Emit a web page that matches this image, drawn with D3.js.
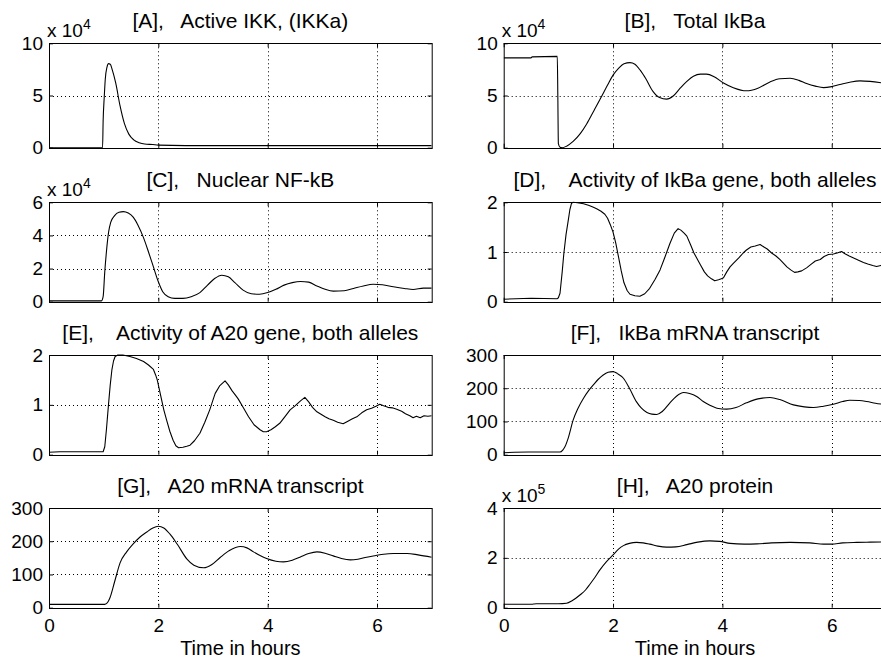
<!DOCTYPE html>
<html>
<head>
<meta charset="utf-8">
<script src="https://cdn.jsdelivr.net/npm/d3@7"></script>
<style>
  html, body { margin: 0; padding: 0; background: #fff; }
  svg { display: block; }
  text { font-family: "Liberation Sans", Arial, Helvetica, sans-serif; fill: #000; }
  .title { white-space: pre; }
</style>
</head>
<body>
<svg id="fig" width="881" height="660"></svg>
<script>
// ---------- simulated time courses (time in hours) ----------

// [A] active IKK
const tIKK = [0, 0.98, 0.99, 1.01, 1.03, 1.06, 1.09, 1.12, 1.16, 1.22, 1.3, 1.38, 1.46, 1.55, 1.65, 1.75, 1.9, 2.0, 3, 4, 5, 6, 7];
const vIKK = [0, 0, 25000, 48000, 66000, 77000, 80500, 80000, 74000, 62000, 40000, 23000, 13000, 7500, 4800, 3500, 3000, 2500, 2000, 2000, 2000, 2000, 2000];

// [B] total IkBa
const tIkBa = [0, 0.5, 0.52, 0.98, 0.99, 1.0, 1.03, 1.07, 1.15, 1.27, 1.4, 1.52, 1.65, 1.79, 1.9, 2.0, 2.1, 2.2, 2.31, 2.4, 2.5, 2.6, 2.73, 2.85, 2.98, 3.1, 3.22, 3.35, 3.47, 3.6, 3.71, 3.85, 4.02, 4.2, 4.44, 4.65, 4.87, 5.05, 5.24, 5.4, 5.54, 5.7, 5.85, 6.0, 6.15, 6.35, 6.52, 6.7, 7.0];
const vIkBa = [86000, 86000, 87000, 87500, 50000, 4000, 500, 0, 1500, 6000, 13500, 23000, 35500, 49000, 60000, 69500, 76000, 80500, 81500, 80000, 74000, 66000, 54000, 48000, 46500, 49500, 56500, 63500, 68500, 70500, 70500, 68000, 62000, 57500, 54500, 57000, 63000, 66000, 66500, 64500, 61500, 59000, 57500, 58500, 60500, 63000, 64000, 63500, 61500];

// [C] nuclear NF-kB
const tNFkB = [0, 0.96, 0.99, 1.02, 1.05, 1.09, 1.13, 1.2, 1.28, 1.36, 1.45, 1.54, 1.63, 1.73, 1.82, 1.91, 2.0, 2.08, 2.18, 2.3, 2.45, 2.6, 2.76, 2.9, 3.03, 3.16, 3.28, 3.4, 3.55, 3.7, 3.85, 4.0, 4.15, 4.3, 4.45, 4.6, 4.75, 4.9, 5.05, 5.2, 5.4, 5.57, 5.75, 5.93, 6.1, 6.3, 6.5, 6.66, 6.85, 7.0];
const vNFkB = [500, 500, 3000, 18000, 30000, 42000, 48000, 52000, 54000, 54400, 53500, 51000, 46000, 38500, 30000, 21000, 12000, 6000, 3000, 2000, 2000, 3000, 5500, 10000, 14000, 16000, 15000, 11500, 7000, 4800, 4500, 5500, 7500, 10000, 11500, 12200, 11800, 9500, 7500, 6400, 6600, 8000, 9500, 10500, 10200, 9000, 8000, 7400, 8200, 8200];

// [D] IkBa gene activity (both alleles)
const tGeneIkBa = [0, 0.5, 0.98, 1.0, 1.03, 1.07, 1.1, 1.14, 1.18, 1.21, 1.24, 1.27, 1.35, 1.46, 1.55, 1.62, 1.7, 1.78, 1.85, 1.9, 1.95, 2.0, 2.05, 2.1, 2.15, 2.2, 2.26, 2.31, 2.4, 2.49, 2.58, 2.67, 2.77, 2.86, 2.95, 3.04, 3.12, 3.19, 3.24, 3.3, 3.35, 3.42, 3.48, 3.53, 3.6, 3.67, 3.73, 3.8, 3.86, 3.93, 3.98, 4.02, 4.08, 4.14, 4.2, 4.3, 4.38, 4.44, 4.52, 4.6, 4.69, 4.76, 4.82, 4.9, 4.98, 5.05, 5.12, 5.18, 5.25, 5.32, 5.38, 5.45, 5.54, 5.62, 5.7, 5.79, 5.86, 5.94, 6.03, 6.1, 6.18, 6.25, 6.32, 6.4, 6.5, 6.58, 6.66, 6.75, 6.82, 6.9, 7.0];
const vGeneIkBa = [0.05, 0.07, 0.06, 0.08, 0.17, 0.6, 0.97, 1.35, 1.63, 1.85, 1.98, 2.0, 1.99, 1.97, 1.94, 1.91, 1.87, 1.82, 1.76, 1.68, 1.55, 1.4, 1.18, 0.9, 0.62, 0.38, 0.22, 0.15, 0.12, 0.11, 0.16, 0.27, 0.45, 0.64, 0.9, 1.17, 1.38, 1.47, 1.44, 1.38, 1.32, 1.14, 0.98, 0.88, 0.74, 0.6, 0.52, 0.46, 0.42, 0.44, 0.46, 0.48, 0.6, 0.7, 0.77, 0.88, 0.98, 1.04, 1.1, 1.12, 1.15, 1.1, 1.06, 0.98, 0.92, 0.85, 0.77, 0.7, 0.64, 0.59, 0.6, 0.62, 0.68, 0.75, 0.82, 0.85, 0.91, 0.95, 0.96, 0.98, 1.01, 0.96, 0.92, 0.88, 0.83, 0.79, 0.76, 0.73, 0.71, 0.73, 0.72];

// [E] A20 gene activity (both alleles)
const tGeneA20 = [0, 0.2, 0.5, 0.8, 0.99, 1.02, 1.05, 1.09, 1.12, 1.15, 1.18, 1.21, 1.26, 1.35, 1.48, 1.6, 1.73, 1.82, 1.91, 1.95, 1.98, 2.02, 2.06, 2.1, 2.15, 2.21, 2.27, 2.32, 2.37, 2.45, 2.52, 2.58, 2.66, 2.76, 2.85, 2.94, 3.0, 3.04, 3.12, 3.22, 3.28, 3.35, 3.42, 3.46, 3.55, 3.65, 3.75, 3.86, 3.92, 3.98, 4.06, 4.14, 4.22, 4.32, 4.41, 4.5, 4.6, 4.68, 4.75, 4.82, 4.9, 4.96, 5.05, 5.12, 5.2, 5.28, 5.38, 5.45, 5.55, 5.63, 5.72, 5.81, 5.9, 5.98, 6.05, 6.12, 6.2, 6.28, 6.36, 6.45, 6.52, 6.6, 6.66, 6.72, 6.79, 6.86, 6.93, 7.0];
const vGeneA20 = [0.05, 0.06, 0.06, 0.06, 0.06, 0.16, 0.5, 1.03, 1.4, 1.7, 1.88, 1.97, 2.0, 2.0, 1.97, 1.93, 1.87, 1.8, 1.71, 1.6, 1.5, 1.3, 1.1, 0.9, 0.7, 0.47, 0.29, 0.18, 0.14, 0.15, 0.17, 0.19, 0.28, 0.43, 0.65, 0.9, 1.1, 1.23, 1.38, 1.48, 1.4, 1.28, 1.18, 1.12, 0.95, 0.76, 0.6, 0.5, 0.46, 0.46, 0.5, 0.56, 0.63, 0.77, 0.9, 0.98, 1.08, 1.15, 1.06, 0.95, 0.86, 0.82, 0.76, 0.72, 0.69, 0.65, 0.62, 0.66, 0.72, 0.76, 0.84, 0.9, 0.93, 0.97, 1.01, 0.98, 0.95, 0.94, 0.91, 0.87, 0.82, 0.78, 0.74, 0.77, 0.74, 0.78, 0.77, 0.78];

// [F] IkBa mRNA transcript
const tMrnaIkBa = [0, 0.45, 1.03, 1.08, 1.12, 1.18, 1.27, 1.36, 1.46, 1.55, 1.64, 1.73, 1.82, 1.91, 2.0, 2.08, 2.19, 2.3, 2.43, 2.52, 2.62, 2.71, 2.8, 2.9, 3.04, 3.16, 3.29, 3.4, 3.53, 3.65, 3.77, 3.9, 4.08, 4.25, 4.44, 4.65, 4.87, 5.05, 5.3, 5.5, 5.66, 5.85, 6.03, 6.2, 6.33, 6.5, 6.64, 6.8, 7.0];
const vMrnaIkBa = [6, 8, 8, 14, 24, 50, 104, 140, 170, 192, 210, 227, 240, 248, 250, 244, 230, 200, 159, 140, 127, 122, 121, 130, 156, 176, 187, 184, 175, 160, 149, 140, 137, 142, 156, 168, 172, 166, 150, 144, 142, 146, 152, 160, 164, 163, 160, 155, 150];

// [G] A20 mRNA transcript
const tMrnaA20 = [0, 0.5, 1.02, 1.08, 1.115, 1.2, 1.3, 1.42, 1.54, 1.66, 1.79, 1.9, 2.0, 2.1, 2.21, 2.35, 2.52, 2.65, 2.83, 2.98, 3.13, 3.3, 3.5, 3.62, 3.74, 3.86, 3.98, 4.15, 4.29, 4.45, 4.59, 4.75, 4.9, 5.05, 5.2, 5.35, 5.51, 5.65, 5.81, 5.98, 6.12, 6.3, 6.55, 6.75, 7.0];
const vMrnaA20 = [10, 10, 10, 18, 30, 78, 135, 168, 192, 212, 228, 240, 245, 240, 222, 190, 147, 128, 120, 130, 151, 172, 184, 180, 168, 157, 148, 140, 138, 143, 152, 163, 168, 164, 156, 148, 144, 146, 152, 157, 161, 163, 163, 159, 152];

// [H] A20 protein
const tA20 = [0, 0.5, 0.6, 1.0, 1.15, 1.25, 1.4, 1.5, 1.58, 1.67, 1.76, 1.88, 2.0, 2.1, 2.19, 2.3, 2.43, 2.55, 2.67, 2.82, 2.98, 3.15, 3.35, 3.55, 3.77, 3.95, 4.14, 4.4, 4.63, 4.9, 5.24, 5.6, 5.85, 6.0, 6.2, 6.46, 6.7, 7.0];
const vA20 = [14000, 14000, 16000, 16000, 18000, 28000, 52000, 72000, 95000, 122000, 152000, 185000, 212000, 235000, 249000, 258000, 262000, 260000, 255000, 247000, 243000, 244000, 253000, 263000, 268000, 266000, 258000, 255000, 256000, 260000, 262000, 260000, 255000, 255000, 260000, 262000, 263000, 264000];

// ---------- titles and ticks ----------
const titles = [
  "[A],   Active IKK, (IKKa)",
  "[B],   Total IkBa",
  "[C],   Nuclear NF-kB",
  "[D],    Activity of IkBa gene, both alleles",
  "[E],    Activity of A20 gene, both alleles",
  "[F],   IkBa mRNA transcript",
  "[G],   A20 mRNA transcript",
  "[H],   A20 protein"
];
const xTicks = [0, 2, 4, 6];
const xDomain = [0, 7];
const xLabel = "Time in hours";
const yTicksIKK = [0, 50000, 100000];
const yTicksIkBa = [0, 50000, 100000];
const yTicksNFkB = [0, 20000, 40000, 60000];
const yTicksGene = [0, 1, 2];
const yTicksMrna = [0, 100, 200, 300];
const yTicksA20 = [0, 200000, 400000];

// ---------- layout ----------
const svg = d3.select("#fig");
const colX = [[49, 431.7], [503.7, 886.4]];
const rowY = [[43.3, 147.7], [202.3, 301.7], [355, 454.7], [508, 607.7]];

const panels = [
  { title: titles[0], t: tIKK,      v: vIKK,      ticks: yTicksIKK,  exp: 4, col: 0, row: 0, curve: d3.curveMonotoneX },
  { title: titles[1], t: tIkBa,     v: vIkBa,     ticks: yTicksIkBa, exp: 4, col: 1, row: 0, curve: d3.curveMonotoneX },
  { title: titles[2], t: tNFkB,     v: vNFkB,     ticks: yTicksNFkB, exp: 4, col: 0, row: 1, curve: d3.curveMonotoneX },
  { title: titles[3], t: tGeneIkBa, v: vGeneIkBa, ticks: yTicksGene, exp: 0, col: 1, row: 1, curve: d3.curveLinear },
  { title: titles[4], t: tGeneA20,  v: vGeneA20,  ticks: yTicksGene, exp: 0, col: 0, row: 2, curve: d3.curveLinear },
  { title: titles[5], t: tMrnaIkBa, v: vMrnaIkBa, ticks: yTicksMrna, exp: 0, col: 1, row: 2, curve: d3.curveMonotoneX },
  { title: titles[6], t: tMrnaA20,  v: vMrnaA20,  ticks: yTicksMrna, exp: 0, col: 0, row: 3, curve: d3.curveMonotoneX },
  { title: titles[7], t: tA20,      v: vA20,      ticks: yTicksA20,  exp: 5, col: 1, row: 3, curve: d3.curveMonotoneX }
];

const TICK = 4;

panels.forEach((p, i) => {
  const [x0, x1] = colX[p.col];
  const [top, bottom] = rowY[p.row];
  const x = d3.scaleLinear().domain(xDomain).range([x0, x1]);
  const y = d3.scaleLinear().domain(d3.extent(p.ticks)).range([bottom, top]);
  const g = svg.append("g");
  const isBottomRow = p.row === 3;
  const yMax = d3.max(p.ticks);
  const scaleDiv = Math.pow(10, p.exp);

  const clipId = "clip" + i;
  g.append("clipPath").attr("id", clipId)
    .append("rect").attr("x", x0).attr("y", top - 1)
    .attr("width", x1 - x0).attr("height", bottom - top + 2);

  // dotted grid at interior ticks
  const grid = g.append("g").attr("stroke", "#000").attr("stroke-width", 1)
    .attr("stroke-dasharray", "1,3");
  xTicks.filter(d => d > xDomain[0] && d < xDomain[1]).forEach(d => {
    grid.append("line").attr("x1", Math.round(x(d)) + 0.5).attr("x2", Math.round(x(d)) + 0.5)
      .attr("y1", top).attr("y2", bottom);
  });
  p.ticks.filter(d => d > 0 && d < yMax).forEach(d => {
    grid.append("line").attr("y1", Math.round(y(d)) + 0.5).attr("y2", Math.round(y(d)) + 0.5)
      .attr("x1", x0).attr("x2", x1);
  });

  // data curve
  const line = d3.line().x(d => x(d[0])).y(d => y(d[1])).curve(p.curve);
  g.append("path")
    .datum(d3.zip(p.t, p.v))
    .attr("clip-path", `url(#${clipId})`)
    .attr("fill", "none").attr("stroke", "#000").attr("stroke-width", 1.1)
    .attr("stroke-linejoin", "round")
    .attr("d", line);

  // inward tick marks on all four sides
  const styleAxis = sel => {
    sel.select(".domain").remove();
    sel.selectAll(".tick line").attr("stroke", "#000");
    sel.selectAll(".tick text").attr("font-size", 19).attr("fill", "#000");
  };
  g.append("g").attr("transform", `translate(0,${bottom})`)
    .call(d3.axisBottom(x).tickValues(xTicks).tickSizeInner(-TICK).tickSizeOuter(0)
      .tickPadding(11).tickFormat(isBottomRow ? d3.format("d") : () => ""))
    .call(styleAxis);
  g.append("g").attr("transform", `translate(0,${top})`)
    .call(d3.axisTop(x).tickValues(xTicks).tickSizeInner(-TICK).tickSizeOuter(0).tickFormat(() => ""))
    .call(styleAxis);
  g.append("g").attr("transform", `translate(${x0},0)`)
    .call(d3.axisLeft(y).tickValues(p.ticks).tickSizeInner(-TICK).tickSizeOuter(0)
      .tickPadding(6).tickFormat(d => d3.format("d")(d / scaleDiv)))
    .call(styleAxis);
  g.append("g").attr("transform", `translate(${x1},0)`)
    .call(d3.axisRight(y).tickValues(p.ticks).tickSizeInner(-TICK).tickSizeOuter(0).tickFormat(() => ""))
    .call(styleAxis);

  // axes box
  g.append("rect").attr("x", x0 + 0.5).attr("y", Math.round(top) + 0.5)
    .attr("width", x1 - x0).attr("height", Math.round(bottom) - Math.round(top))
    .attr("fill", "none").attr("stroke", "#000").attr("stroke-width", 1);

  // title
  g.append("text").attr("class", "title")
    .attr("x", (x0 + x1) / 2).attr("y", top - 15)
    .attr("text-anchor", "middle").attr("font-size", 21)
    .text(p.title);

  // power-of-ten multiplier
  if (p.exp) {
    const m = g.append("text").attr("x", x0 - 2).attr("y", top - 6).attr("font-size", 19);
    m.append("tspan").text("x 10");
    m.append("tspan").attr("font-size", 14).attr("dy", -8).text(String(p.exp));
  }

  // x-axis label on the bottom row
  if (isBottomRow) {
    g.append("text").attr("x", (x0 + x1) / 2).attr("y", 655)
      .attr("text-anchor", "middle").attr("font-size", 20).text(xLabel);
  }
});
</script>
</body>
</html>
